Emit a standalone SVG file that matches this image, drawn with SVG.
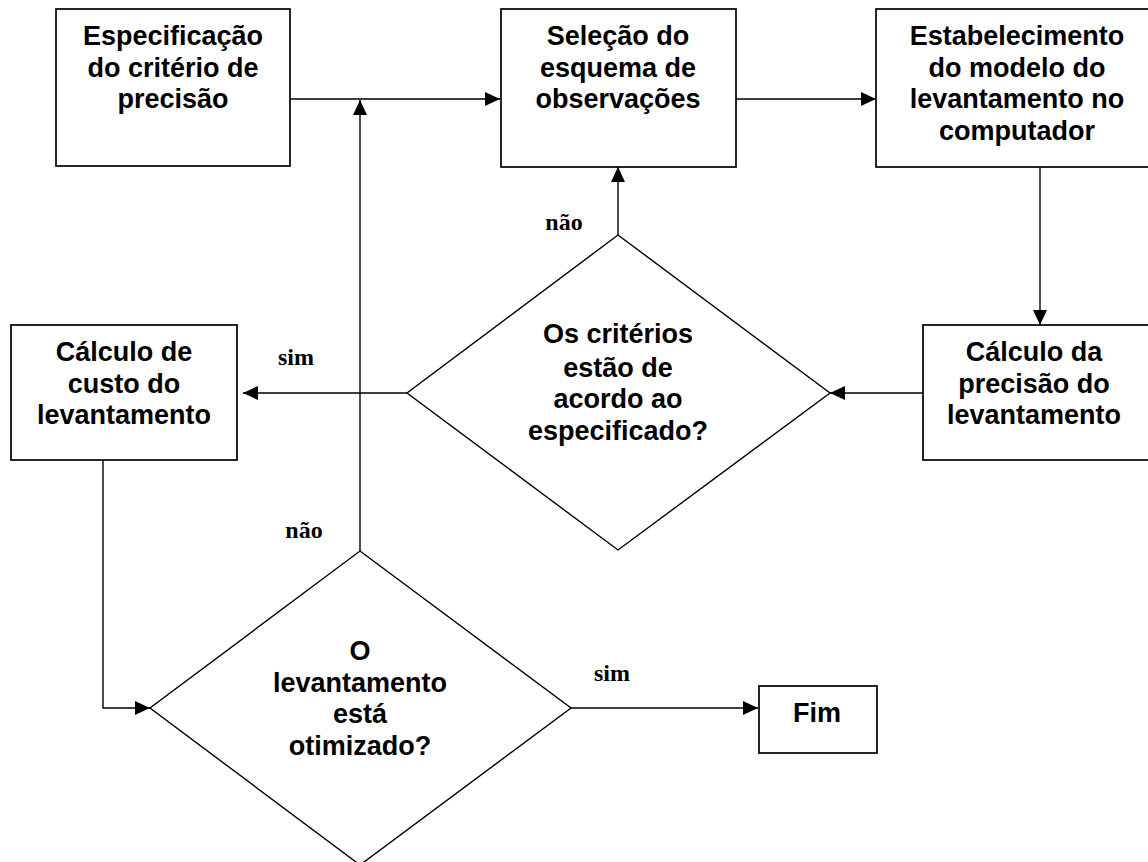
<svg xmlns="http://www.w3.org/2000/svg" width="1148" height="862" viewBox="0 0 1148 862">
<defs>
<style>
.box{fill:#fff;stroke:#000;stroke-width:1.7}
.dia{fill:#fff;stroke:#000;stroke-width:1.4}
.t{font-family:"Liberation Sans",Arial,sans-serif;font-weight:bold;font-size:27px;text-anchor:middle;fill:#000}
.lbl{font-family:"Liberation Serif","Times New Roman",serif;font-weight:bold;font-size:24px;text-anchor:middle;fill:#000}
.c{fill:none;stroke:#000;stroke-width:1.4}
</style>
<marker id="ah" markerUnits="userSpaceOnUse" markerWidth="15" markerHeight="14" refX="15" refY="7" orient="auto">
<path d="M0,0 L15,7 L0,14 z" fill="#000"/>
</marker>
</defs>
<rect width="1148" height="862" fill="#fff"/>
<g id="connectors">
<path class="c" d="M290,99 H500" marker-end="url(#ah)"/>
<path class="c" d="M736,99 H876" marker-end="url(#ah)"/>
<path class="c" d="M1040,167 V325" marker-end="url(#ah)"/>
<path class="c" d="M923,393 H830" marker-end="url(#ah)"/>
<path class="c" d="M618,235 V167" marker-end="url(#ah)"/>
<path class="c" d="M407,393 H243" marker-end="url(#ah)"/>
<path class="c" d="M360,551 V100" marker-end="url(#ah)"/>
<path class="c" d="M103,460 V708 H150" marker-end="url(#ah)"/>
<path class="c" d="M571,708 H758" marker-end="url(#ah)"/>
<text class="lbl" x="564" y="230">não</text>
<text class="lbl" x="296" y="365">sim</text>
<text class="lbl" x="304" y="538">não</text>
<text class="lbl" x="612" y="681">sim</text>
</g>
<g id="n1">
<rect class="box" x="56" y="9" width="234" height="157"/>
<text class="t" x="173" y="45">Especificação</text>
<text class="t" x="173" y="77">do critério de</text>
<text class="t" x="173" y="108">precisão</text>
</g>
<g id="n2">
<rect class="box" x="501" y="9" width="235" height="158"/>
<text class="t" x="618" y="45">Seleção do</text>
<text class="t" x="618" y="77">esquema de</text>
<text class="t" x="618" y="108">observações</text>
</g>
<g id="n3">
<rect class="box" x="876" y="9" width="280" height="158"/>
<text class="t" x="1017" y="45">Estabelecimento</text>
<text class="t" x="1017" y="77">do modelo do</text>
<text class="t" x="1017" y="108">levantamento no</text>
<text class="t" x="1017" y="140">computador</text>
</g>
<g id="n4">
<rect class="box" x="11" y="325" width="226" height="135"/>
<text class="t" x="124" y="361">Cálculo de</text>
<text class="t" x="124" y="393">custo do</text>
<text class="t" x="124" y="424">levantamento</text>
</g>
<g id="n5">
<rect class="box" x="923" y="325" width="240" height="135"/>
<text class="t" x="1034" y="361">Cálculo da</text>
<text class="t" x="1034" y="393">precisão do</text>
<text class="t" x="1034" y="424">levantamento</text>
</g>
<g id="d1">
<polygon class="dia" points="618,235 830,393 618,550 407,393"/>
<text class="t" x="618" y="343">Os critérios</text>
<text class="t" x="618" y="377">estão de</text>
<text class="t" x="618" y="408">acordo ao</text>
<text class="t" x="618" y="440">especificado?</text>
</g>
<g id="d2">
<polygon class="dia" points="360,551 571,708 360,865 150,708"/>
<text class="t" x="360" y="660">O</text>
<text class="t" x="360" y="692">levantamento</text>
<text class="t" x="360" y="723">está</text>
<text class="t" x="360" y="755">otimizado?</text>
</g>
<g id="fim">
<rect class="box" x="759" y="686" width="118" height="67"/>
<text class="t" x="817" y="722">Fim</text>
</g>
</svg>
